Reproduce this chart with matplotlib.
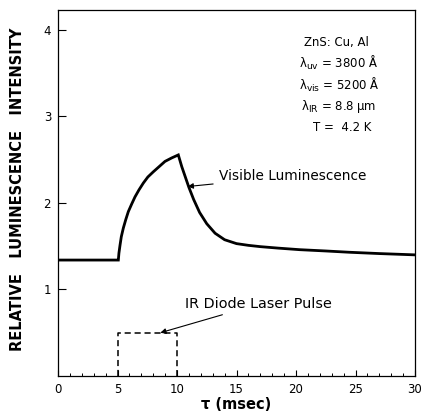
import numpy as np
import matplotlib.pyplot as plt
from matplotlib.ticker import MultipleLocator

# luminescence trace (tau in msec, relative intensity)
tau = [0.0, 5.0, 5.07, 5.12, 5.21, 5.32, 5.49, 5.7, 5.91, 6.2, 6.47, 6.8,
       7.17, 7.55, 8.01, 8.5, 8.99, 9.55, 10.11,
       10.4, 10.7, 11.0, 11.4, 11.9, 12.5, 13.2, 14.0, 15.0, 16.0, 17.0,
       18.5, 20.3, 22.5, 24.5, 27.0, 30.0]
intensity = [1.34, 1.34, 1.34, 1.42, 1.51, 1.61, 1.71, 1.81, 1.90, 1.99, 2.07, 2.15,
             2.23, 2.30, 2.36, 2.42, 2.48, 2.52, 2.555,
             2.42, 2.30, 2.18, 2.04, 1.89, 1.76, 1.65, 1.575, 1.53, 1.51, 1.495,
             1.478, 1.46, 1.445, 1.43, 1.415, 1.40]

# IR diode laser pulse (dashed box)
pulse_tau = [5.0, 5.0, 10.0, 10.0]
pulse_level = [0.0, 0.5, 0.5, 0.0]

x_ticks = [0, 5, 10, 15, 20, 25, 30]
y_ticks = [1, 2, 3, 4]

conditions = ['ZnS: Cu, Al',
              r'λ$_{\rm uv}$ = 3800 Å',
              r'λ$_{\rm vis}$ = 5200 Å',
              r'λ$_{\rm IR}$ = 8.8 μm',
              'T =  4.2 K']

plt.rcParams['font.family'] = ['DejaVu Sans']
plt.rcParams['mathtext.fontset'] = 'dejavusans'

fig = plt.figure(figsize=(4.24, 4.17), dpi=100)
ax = fig.add_axes([58 / 424, 41 / 417, 357 / 424, 366 / 417])

ax.plot(tau, intensity, color='black', lw=2.0, solid_joinstyle='miter')
ax.plot(pulse_tau, pulse_level, color='black', lw=1.1, linestyle=(0, (4, 2.5)))

ax.set_xlim(0, 30)
ax.set_ylim(0, 4.23)
ax.set_xticks(x_ticks)
ax.set_yticks(y_ticks)
ax.xaxis.set_minor_locator(MultipleLocator(1))
ax.tick_params(axis='both', which='major', direction='in', width=0.8,
               labelsize=8.5, pad=5)
ax.tick_params(axis='x', which='major', length=4)
ax.tick_params(axis='y', which='major', length=6)
ax.tick_params(axis='x', which='minor', direction='in', length=2, width=0.7)
for sp in ax.spines.values():
    sp.set_linewidth(0.9)

ax.set_xlabel('τ (msec)', fontsize=10.5, fontweight='bold', labelpad=1)
fig.text(18 / 424, 0.545, 'RELATIVE   LUMINESCENCE   INTENSITY', rotation=90,
         ha='center', va='center', fontsize=10.5, fontweight='bold')

ys = [3.85, 3.62, 3.36, 3.11, 2.87]
xs = [23.4, 23.6, 23.6, 23.6, 23.9]
for x, y, s in zip(xs, ys, conditions):
    ax.text(x, y, s, ha='center', va='center', fontsize=9.4,
            fontstretch='condensed')

ax.annotate('Visible Luminescence', xy=(10.9, 2.19), xytext=(13.5, 2.31),
            fontsize=9.8, va='center', ha='left',
            arrowprops=dict(arrowstyle='-|>', color='black', lw=0.8,
                            mutation_scale=8, shrinkA=2, shrinkB=0))
ax.annotate('IR Diode Laser Pulse', xy=(8.6, 0.5), xytext=(10.7, 0.83),
            fontsize=10.4, va='center', ha='left',
            arrowprops=dict(arrowstyle='-|>', color='black', lw=0.8,
                            mutation_scale=8, shrinkA=2, shrinkB=0))

fig.savefig('out.png', dpi=100)
